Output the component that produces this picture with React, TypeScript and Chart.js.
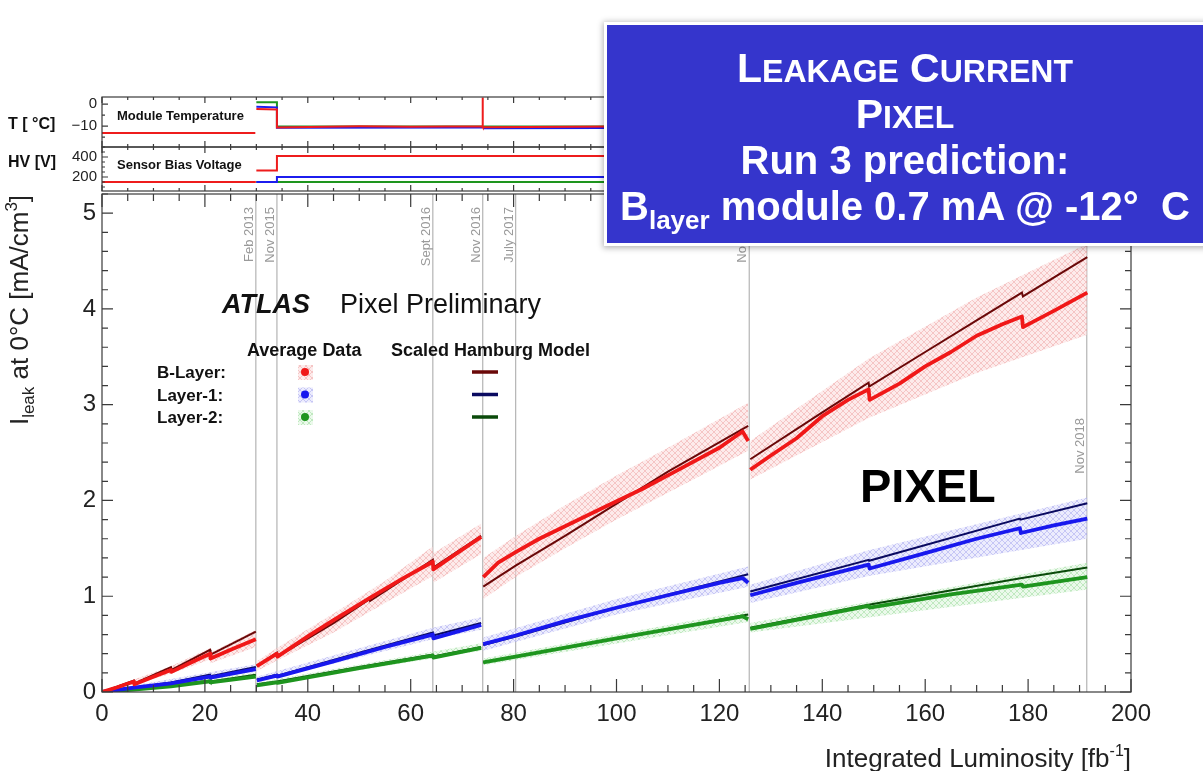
import React, { useEffect, useRef } from 'react';
import { Chart, registerables } from 'chart.js';

Chart.register(...registerables);

type Pt = [number, number];
type BandPt = [number, number, number];

const FONT = '"Liberation Sans", Arial, Helvetica, sans-serif';

// ---------- axis ranges ----------
const lumiRange: Pt = [0, 200];
const lumiStep = 20;
const leakRange: Pt = [0, 5.2];
const leakStep = 1;
const tempRange: Pt = [-19.5, 3.2];
const tempTickValues = [-10, 0];
const hvRange: Pt = [60, 500];
const hvTickValues = [200, 400];

// ---------- run periods (integrated luminosity, fb^-1) ----------
const eraLumi = [29.9, 34.0, 64.3, 74.0, 80.4, 125.8, 191.4];
const eraLabels = ['Feb 2013', 'Nov 2015', 'Sept 2016', 'Nov 2016', 'July 2017', 'Nov 2017', 'Nov 2018'];

// ---------- B-Layer ----------
const bLayerData: Pt[][] = [
  [[0, 0], [3, 0.05], [6.2, 0.11], [6.3, 0.08], [10, 0.16], [13.4, 0.23], [13.5, 0.21], [17, 0.3], [21, 0.4], [21.1, 0.35], [25, 0.44], [29.9, 0.55]],
  [[30.1, 0.27], [34, 0.4], [34.1, 0.37], [40, 0.58], [45, 0.75], [52, 0.98], [58, 1.17], [64.3, 1.36], [64.4, 1.28], [69, 1.45], [73.7, 1.62]],
  [[74.1, 1.2], [77, 1.35], [80.4, 1.46], [85, 1.6], [90, 1.73], [98, 1.94], [105, 2.12], [112, 2.32], [120, 2.55], [124.5, 2.72], [125.6, 2.62]],
  [[126, 2.32], [130, 2.47], [135, 2.65], [140, 2.88], [145, 3.05], [149, 3.16], [149.2, 3.05], [155, 3.22], [160, 3.4], [165, 3.55], [170, 3.72], [175, 3.84], [178.8, 3.92], [179, 3.81], [185, 3.98], [191.5, 4.17]],
];
const bLayerModel: Pt[][] = [
  [[0, 0], [6.2, 0.12], [6.3, 0.09], [13.4, 0.26], [13.5, 0.23], [21, 0.44], [21.1, 0.39], [29.9, 0.63]],
  [[30.1, 0.27], [34, 0.41], [34.1, 0.37], [45, 0.72], [52, 0.97], [52.1, 0.95], [64.3, 1.38], [64.4, 1.3], [73.7, 1.63]],
  [[74.1, 1.1], [80.4, 1.32], [90, 1.63], [98, 1.9], [110, 2.3], [125.6, 2.78]],
  [[126, 2.43], [140, 2.92], [149, 3.23], [149.1, 3.19], [160, 3.55], [170, 3.88], [178.8, 4.17], [179, 4.13], [191.5, 4.54]],
];
const bLayerBand: BandPt[][] = [
  [[0, 0, 0.01], [6.2, 0.08, 0.13], [13.4, 0.19, 0.27], [21, 0.34, 0.46], [21.1, 0.3, 0.41], [29.9, 0.47, 0.65]],
  [[30.1, 0.22, 0.32], [34, 0.33, 0.46], [45, 0.62, 0.82], [55, 0.93, 1.16], [64.3, 1.21, 1.52], [64.4, 1.14, 1.45], [73.7, 1.44, 1.76]],
  [[74.1, 0.97, 1.4], [80.4, 1.2, 1.63], [90, 1.5, 1.95], [100, 1.8, 2.26], [110, 2.08, 2.55], [125.6, 2.52, 3.02]],
  [[126, 2.22, 2.62], [149, 2.86, 3.48], [170, 3.33, 4.12], [191.5, 3.73, 4.68]],
];

// ---------- Layer-1 ----------
const layer1Data: Pt[][] = [
  [[0, 0], [6.2, 0.045], [13.4, 0.09], [21, 0.16], [21.1, 0.15], [29.9, 0.24]],
  [[30.1, 0.12], [34, 0.17], [34.1, 0.16], [45, 0.32], [55, 0.47], [64.3, 0.6], [64.4, 0.56], [73.7, 0.7]],
  [[74.1, 0.5], [80.4, 0.59], [90, 0.74], [100, 0.88], [110, 1.01], [120, 1.14], [124.5, 1.19], [125.6, 1.14]],
  [[126, 1.01], [135, 1.14], [149, 1.33], [149.2, 1.29], [160, 1.45], [170, 1.6], [178.4, 1.71], [178.6, 1.66], [185, 1.74], [191.5, 1.81]],
];
const layer1Model: Pt[][] = [
  [[0, 0], [6.2, 0.05], [6.3, 0.045], [13.4, 0.1], [21, 0.18], [21.1, 0.165], [29.9, 0.26]],
  [[30.1, 0.13], [34, 0.18], [34.1, 0.17], [50, 0.41], [64.3, 0.62], [64.4, 0.59], [73.7, 0.72]],
  [[74.1, 0.49], [80.4, 0.58], [100, 0.88], [125.6, 1.23]],
  [[126, 1.05], [149, 1.38], [149.1, 1.37], [178.4, 1.81], [178.5, 1.8], [191.5, 1.97]],
];
const layer1Band: BandPt[][] = [
  [[0, 0, 0.01], [29.9, 0.21, 0.29]],
  [[30.1, 0.1, 0.16], [64.3, 0.55, 0.67], [73.7, 0.65, 0.78]],
  [[74.1, 0.43, 0.57], [100, 0.81, 0.97], [125.6, 1.1, 1.31]],
  [[126, 0.93, 1.12], [149, 1.21, 1.48], [191.5, 1.6, 2.03]],
];

// ---------- Layer-2 ----------
const layer2Data: Pt[][] = [
  [[0, 0], [6.2, 0.025], [13.4, 0.06], [21, 0.11], [21.1, 0.1], [29.9, 0.16]],
  [[30.1, 0.07], [34, 0.1], [34.1, 0.095], [50, 0.25], [64.3, 0.38], [64.4, 0.36], [73.7, 0.46]],
  [[74.1, 0.31], [80.4, 0.37], [100, 0.56], [124.5, 0.79], [125.6, 0.76]],
  [[126, 0.66], [149, 0.9], [149.2, 0.88], [165, 1.02], [178.8, 1.12], [179, 1.1], [191.5, 1.2]],
];
const layer2Model: Pt[][] = [
  [[0, 0], [6.2, 0.03], [13.4, 0.07], [21, 0.12], [21.1, 0.11], [29.9, 0.18]],
  [[30.1, 0.08], [34, 0.11], [50, 0.26], [64.3, 0.39], [64.4, 0.37], [73.7, 0.47]],
  [[74.1, 0.31], [80.4, 0.37], [100, 0.56], [125.6, 0.81]],
  [[126, 0.67], [149, 0.91], [178.8, 1.19], [191.5, 1.3]],
];
const layer2Band: BandPt[][] = [
  [[0, 0, 0.01], [29.9, 0.14, 0.2]],
  [[30.1, 0.06, 0.1], [73.7, 0.43, 0.51]],
  [[74.1, 0.28, 0.35], [125.6, 0.73, 0.85]],
  [[126, 0.62, 0.72], [191.5, 1.07, 1.35]],
];

// ---------- module temperature [°C] ----------
const tempBLayer: Pt[][] = [
  [[0, -13.2], [29.8, -13.2]],
  [[30, -2.2], [34, -2.5], [34, -10.6], [50, -10.1], [60, -10.3], [73.9, -10.1], [73.95, 3], [74.05, -10.5], [100, -10.2], [150, -10], [192, -10.3]],
];
const tempLayer1: Pt[][] = [
  [[30, -1.2], [34, -1.5], [34, -10.8], [73.9, -10.6]],
  [[74.05, -11], [120, -10.8], [192, -11.1]],
];
const tempLayer2: Pt[][] = [
  [[30, 0.8], [34, 0.8], [34, -10.2], [192, -10.2]],
];

// ---------- sensor bias voltage [V] ----------
const hvBLayer: Pt[][] = [
  [[0, 150], [29.9, 150]],
  [[30, 265], [34, 265], [34, 410], [192, 410]],
];
const hvLayer1: Pt[][] = [
  [[30, 150], [34, 150], [34, 200], [192, 200]],
];
const hvLayer2: Pt[][] = [
  [[30, 150], [192, 150]],
];

const layers = [
  { label: 'B-Layer:', data: bLayerData, model: bLayerModel, band: bLayerBand, dataColor: '#f01818', modelColor: '#6a0808', bandBg: 'rgba(252,216,216,0.5)', bandInk: 'rgba(236,150,150,0.45)' },
  { label: 'Layer-1:', data: layer1Data, model: layer1Model, band: layer1Band, dataColor: '#1818ee', modelColor: '#0a0a60', bandBg: 'rgba(218,218,252,0.5)', bandInk: 'rgba(150,150,236,0.45)' },
  { label: 'Layer-2:', data: layer2Data, model: layer2Model, band: layer2Band, dataColor: '#1e951e', modelColor: '#0a4a0a', bandBg: 'rgba(216,244,216,0.5)', bandInk: 'rgba(140,212,140,0.45)' },
];

// ---------- helpers ----------
function flatten(segs: Pt[][]) {
  const out: { x: number; y: number | null }[] = [];
  segs.forEach((seg, i) => {
    if (i > 0) {
      const prev = segs[i - 1][segs[i - 1].length - 1][0];
      out.push({ x: (prev + seg[0][0]) / 2, y: null });
    }
    seg.forEach(([x, y]) => out.push({ x, y }));
  });
  return out;
}

const bandEdge = (segs: BandPt[][], k: 1 | 2) => flatten(segs.map((s) => s.map((p) => [p[0], p[k]] as Pt)));

function hatch(bg: string, ink: string): CanvasPattern | string {
  const c = document.createElement('canvas');
  c.width = 6;
  c.height = 6;
  const g = c.getContext('2d');
  if (!g) return bg;
  g.fillStyle = bg;
  g.fillRect(0, 0, 6, 6);
  g.strokeStyle = ink;
  g.lineWidth = 1;
  g.beginPath();
  g.moveTo(0, 0);
  g.lineTo(6, 6);
  g.moveTo(0, 6);
  g.lineTo(6, 0);
  g.stroke();
  return g.createPattern(c, 'repeat') || bg;
}

const isMult = (v: number, m: number) => Math.abs(v / m - Math.round(v / m)) < 1e-6;

type TickSpec = { minor: number; major: number; minLen: number; majLen: number };

function drawFrame(ctx: CanvasRenderingContext2D, a: any, xs: any, ys: any, xt: TickSpec, yt: TickSpec) {
  ctx.save();
  ctx.strokeStyle = '#3a3a3a';
  ctx.lineWidth = 1.2;
  ctx.strokeRect(a.left, a.top, a.right - a.left, a.bottom - a.top);
  ctx.beginPath();
  for (let i = Math.ceil(xs.min / xt.minor - 1e-9); i * xt.minor <= xs.max + 1e-9; i++) {
    const v = i * xt.minor;
    const p = xs.getPixelForValue(v);
    const len = isMult(v, xt.major) ? xt.majLen : xt.minLen;
    ctx.moveTo(p, a.bottom);
    ctx.lineTo(p, a.bottom - len);
    ctx.moveTo(p, a.top);
    ctx.lineTo(p, a.top + len);
  }
  for (let i = Math.ceil(ys.min / yt.minor - 1e-9); i * yt.minor <= ys.max + 1e-9; i++) {
    const v = i * yt.minor;
    const p = ys.getPixelForValue(v);
    const len = isMult(v, yt.major) ? yt.majLen : yt.minLen;
    ctx.moveTo(a.left, p);
    ctx.lineTo(a.left + len, p);
    ctx.moveTo(a.right, p);
    ctx.lineTo(a.right - len, p);
  }
  ctx.stroke();
  ctx.restore();
}

type Run = { t: string; size: number; dy: number };

function drawRuns(ctx: CanvasRenderingContext2D, runs: Run[], x: number, y: number, align: 'left' | 'right' | 'center') {
  const widths = runs.map((r) => {
    ctx.font = `${r.size}px ${FONT}`;
    return ctx.measureText(r.t).width;
  });
  const total = widths.reduce((s, w) => s + w, 0);
  let cx = align === 'left' ? x : align === 'right' ? x - total : x - total / 2;
  ctx.textAlign = 'left';
  ctx.textBaseline = 'alphabetic';
  runs.forEach((r, i) => {
    ctx.font = `${r.size}px ${FONT}`;
    ctx.fillText(r.t, cx, y + r.dy);
    cx += widths[i];
  });
}

// ---------- main plot decorations ----------
const mainDecor = {
  id: 'mainDecor',
  beforeDatasetsDraw(chart: any) {
    const { ctx, chartArea: a, scales } = chart;
    const x = scales.x;
    ctx.save();
    eraLumi.forEach((v, i) => {
      const px = x.getPixelForValue(v);
      ctx.strokeStyle = '#b4b4b4';
      ctx.lineWidth = 1.2;
      ctx.beginPath();
      ctx.moveTo(px, a.top);
      ctx.lineTo(px, a.bottom);
      ctx.stroke();
      ctx.save();
      const top = i === eraLumi.length - 1 ? a.top + 224 : a.top + 13;
      ctx.translate(px - 3, top);
      ctx.rotate(-Math.PI / 2);
      ctx.font = `13px ${FONT}`;
      ctx.fillStyle = '#9a9a9a';
      ctx.textAlign = 'right';
      ctx.textBaseline = 'alphabetic';
      ctx.fillText(eraLabels[i], 0, 0);
      ctx.restore();
    });
    ctx.restore();
  },
  afterDatasetsDraw(chart: any, _args: any, opts: any) {
    const { ctx, chartArea: a, scales } = chart;
    drawFrame(ctx, a, scales.x, scales.y,
      { minor: 5, major: 20, minLen: 7, majLen: 13 },
      { minor: 0.2, major: 1, minLen: 6, majLen: 11 });
    ctx.save();
    ctx.fillStyle = '#111';
    ctx.textAlign = 'left';
    ctx.textBaseline = 'alphabetic';
    ctx.font = `italic bold 27px ${FONT}`;
    ctx.fillText('ATLAS', 222, 313);
    ctx.font = `27px ${FONT}`;
    ctx.fillText('Pixel Preliminary', 340, 313);
    ctx.font = `bold 18px ${FONT}`;
    ctx.fillText('Average Data', 247, 356);
    ctx.fillText('Scaled Hamburg Model', 391, 356);
    layers.forEach((L, i) => {
      const cy = 372 + i * 22.5;
      ctx.font = `bold 17px ${FONT}`;
      ctx.fillStyle = '#111';
      ctx.fillText(L.label, 157, cy + 6);
      ctx.fillStyle = opts.patterns[i];
      ctx.fillRect(298, cy - 7, 15, 15);
      ctx.fillStyle = L.dataColor;
      ctx.beginPath();
      ctx.arc(305, cy, 4, 0, Math.PI * 2);
      ctx.fill();
      ctx.strokeStyle = L.modelColor;
      ctx.lineWidth = 3.5;
      ctx.beginPath();
      ctx.moveTo(472, cy);
      ctx.lineTo(498, cy);
      ctx.stroke();
    });
    ctx.font = `bold 47px ${FONT}`;
    ctx.fillStyle = '#000';
    ctx.fillText('PIXEL', 860, 502);

    // axis titles
    ctx.fillStyle = '#222';
    drawRuns(ctx, [
      { t: 'Integrated Luminosity [fb', size: 26, dy: 0 },
      { t: '-1', size: 16, dy: -11 },
      { t: ']', size: 26, dy: 0 },
    ], a.right, 767, 'right');
    ctx.save();
    ctx.translate(28, 310);
    ctx.rotate(-Math.PI / 2);
    drawRuns(ctx, [
      { t: 'I', size: 26, dy: 0 },
      { t: 'leak', size: 17, dy: 6 },
      { t: ' at 0°C [mA/cm', size: 26, dy: 0 },
      { t: '3', size: 17, dy: -11 },
      { t: ']', size: 26, dy: 0 },
    ], 0, 0, 'center');
    ctx.restore();
    ctx.restore();
  },
};

function panelDecor(id: string, title: string, caption: string, titleDy: number, captionDy: number, yt: TickSpec) {
  return {
    id,
    afterDatasetsDraw(chart: any) {
      const { ctx, chartArea: a, scales } = chart;
      drawFrame(ctx, a, scales.x, scales.y, { minor: 5, major: 20, minLen: 3, majLen: 6 }, yt);
      ctx.save();
      ctx.fillStyle = '#111';
      ctx.textAlign = 'left';
      ctx.textBaseline = 'alphabetic';
      ctx.font = `bold 16px ${FONT}`;
      ctx.fillText(title, 8, a.top + titleDy);
      ctx.font = `bold 13px ${FONT}`;
      ctx.fillText(caption, 117, a.top + captionDy);
      ctx.restore();
    },
  };
}

function panelConfig(series: { segs: Pt[][]; color: string }[], range: Pt, tickValues: number[], plugin: any): any {
  return {
    type: 'line',
    data: {
      datasets: series.map((s) => ({
        data: flatten(s.segs),
        borderColor: s.color,
        borderWidth: 2,
        pointRadius: 0,
        fill: false,
        tension: 0,
      })),
    },
    options: {
      animation: false,
      responsive: true,
      maintainAspectRatio: false,
      layout: { padding: { left: 0, right: 72, top: 16, bottom: 16 } },
      plugins: { legend: { display: false }, tooltip: { enabled: false } },
      scales: {
        x: { type: 'linear', min: lumiRange[0], max: lumiRange[1], display: false },
        y: {
          type: 'linear',
          min: range[0],
          max: range[1],
          afterBuildTicks: (s: any) => {
            s.ticks = tickValues.map((value) => ({ value }));
          },
          ticks: {
            font: { family: FONT, size: 15 },
            color: '#222',
            padding: 5,
            autoSkip: false,
            callback: (v: number) => String(v).replace('-', '\u2212'),
          },
          grid: { display: false, drawTicks: false },
          border: { display: false },
          afterFit: (s: any) => {
            s.width = 102;
          },
        },
      },
    },
    plugins: [plugin],
  };
}

export default function App() {
  const mainRef = useRef<HTMLCanvasElement>(null);
  const tRef = useRef<HTMLCanvasElement>(null);
  const hvRef = useRef<HTMLCanvasElement>(null);

  useEffect(() => {
    const patterns = layers.map((L) => hatch(L.bandBg, L.bandInk));
    const datasets: any[] = [];
    layers.forEach((L, i) => {
      datasets.push({ data: bandEdge(L.band, 1), borderWidth: 0, borderColor: 'rgba(0,0,0,0)', pointRadius: 0, fill: false, order: 5 });
      datasets.push({ data: bandEdge(L.band, 2), borderWidth: 0, borderColor: 'rgba(0,0,0,0)', pointRadius: 0, fill: '-1', backgroundColor: patterns[i], order: 5 });
      // measured averages are drawn above the model curve
      datasets.push({ data: flatten(L.data), borderColor: L.dataColor, borderWidth: 3.8, borderJoinStyle: 'round', pointRadius: 0, fill: false, order: 1 });
      datasets.push({ data: flatten(L.model), borderColor: L.modelColor, borderWidth: 2, pointRadius: 0, fill: false, order: 3 });
    });

    const main = new Chart(mainRef.current as HTMLCanvasElement, {
      type: 'line',
      data: { datasets },
      options: {
        animation: false,
        responsive: true,
        maintainAspectRatio: false,
        layout: { padding: { left: 0, right: 72, top: 194, bottom: 0 } },
        plugins: {
          legend: { display: false },
          tooltip: { enabled: false },
          mainDecor: { patterns },
        } as any,
        scales: {
          x: {
            type: 'linear',
            min: lumiRange[0],
            max: lumiRange[1],
            ticks: { stepSize: lumiStep, font: { family: FONT, size: 24 }, color: '#222', padding: 8, maxRotation: 0, autoSkip: false },
            grid: { display: false, drawTicks: false },
            border: { display: false },
            afterFit: (s: any) => {
              s.height = 79;
            },
          } as any,
          y: {
            type: 'linear',
            min: leakRange[0],
            max: leakRange[1],
            ticks: { stepSize: leakStep, includeBounds: false, font: { family: FONT, size: 24 }, color: '#222', padding: 6 },
            grid: { display: false, drawTicks: false },
            border: { display: false },
            afterFit: (s: any) => {
              s.width = 102;
            },
          } as any,
        },
      },
      plugins: [mainDecor],
    } as any);

    const temp = new Chart(
      tRef.current as HTMLCanvasElement,
      panelConfig(
        [
          { segs: tempBLayer, color: '#ee1c1c' },
          { segs: tempLayer1, color: '#1c1cee' },
          { segs: tempLayer2, color: '#1e951e' },
        ],
        tempRange,
        tempTickValues,
        panelDecor('tempDecor', 'T [ °C]', 'Module Temperature', 32, 23, { minor: 5, major: 10, minLen: 3, majLen: 6 }),
      ),
    );

    const hv = new Chart(
      hvRef.current as HTMLCanvasElement,
      panelConfig(
        [
          { segs: hvBLayer, color: '#ee1c1c' },
          { segs: hvLayer1, color: '#1c1cee' },
          { segs: hvLayer2, color: '#1e951e' },
        ],
        hvRange,
        hvTickValues,
        panelDecor('hvDecor', 'HV [V]', 'Sensor Bias Voltage', 20, 22, { minor: 50, major: 200, minLen: 3, majLen: 6 }),
      ),
    );

    return () => {
      main.destroy();
      temp.destroy();
      hv.destroy();
    };
  }, []);

  const big = { fontSize: 41 };
  const small = { fontSize: 32 };

  return (
    <div style={{ position: 'absolute', left: 0, top: 0, width: 1203, height: 771, overflow: 'hidden', background: '#fff' }}>
      <div style={{ position: 'absolute', left: 0, top: 0, width: 1203, height: 771 }}>
        <canvas ref={mainRef} />
      </div>
      <div style={{ position: 'absolute', left: 0, top: 81, width: 1203, height: 82 }}>
        <canvas ref={tRef} />
      </div>
      <div style={{ position: 'absolute', left: 0, top: 131, width: 1203, height: 76 }}>
        <canvas ref={hvRef} />
      </div>
      <div
        style={{
          position: 'absolute',
          left: 607,
          top: 25,
          width: 620,
          height: 218,
          boxSizing: 'border-box',
          background: '#3535cc',
          boxShadow: '0 0 0 3px #fff, 0 1px 6px 4px rgba(0,0,0,0.3)',
          color: '#fff',
          fontFamily: FONT,
          fontWeight: 700,
          paddingTop: 20,
        }}
      >
        <div style={{ width: 596, textAlign: 'center', fontSize: 40, lineHeight: '46px' }}>
          <div style={{ height: 46 }}>
            <span style={big}>L</span>
            <span style={small}>EAKAGE</span> <span style={big}>C</span>
            <span style={small}>URRENT</span>
          </div>
          <div style={{ height: 46 }}>
            <span style={big}>P</span>
            <span style={small}>IXEL</span>
          </div>
          <div style={{ height: 46 }}>Run 3 prediction:</div>
          <div style={{ height: 46 }}>
            B<span style={{ fontSize: 26, position: 'relative', top: 9 }}>layer</span> module 0.7 mA @ -12°&nbsp; C
          </div>
        </div>
      </div>
    </div>
  );
}
